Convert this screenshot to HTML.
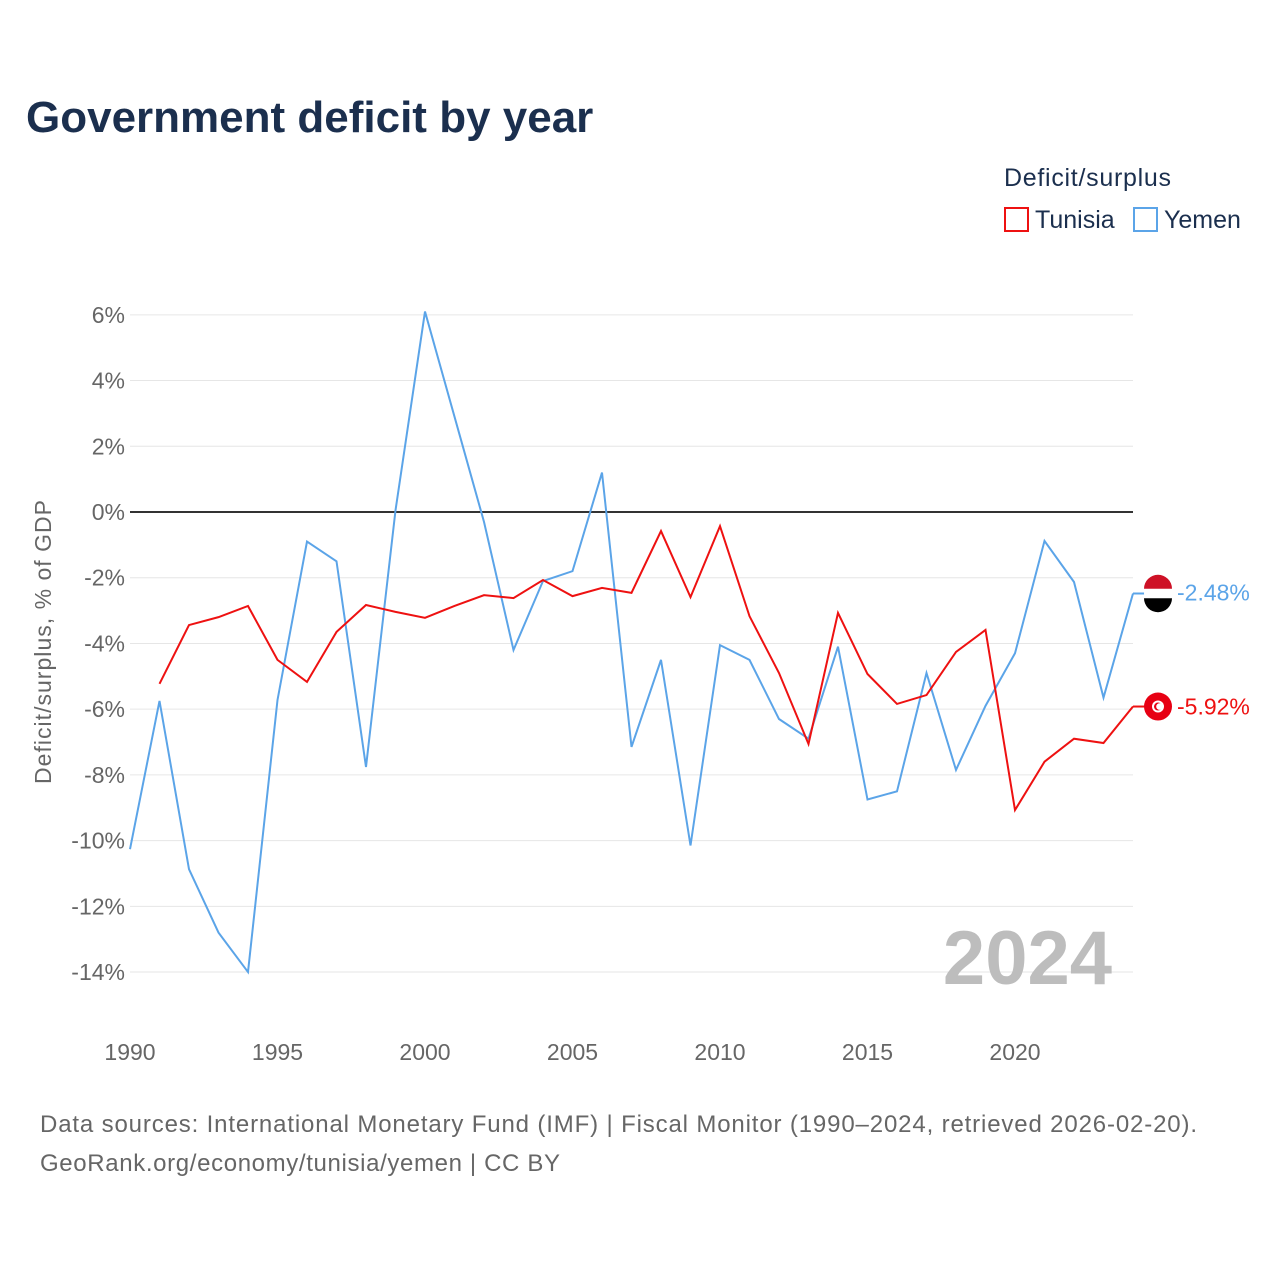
<!DOCTYPE html>
<html><head><meta charset="utf-8"><style>
body{margin:0;background:#fff;font-family:"Liberation Sans",sans-serif;}
#wrap{position:relative;width:1280px;height:1280px;overflow:hidden;}
</style></head><body>
<div id="wrap">
<svg id="chart" width="1280" height="1280" xmlns="http://www.w3.org/2000/svg">
<text x="26" y="132" font-size="44" font-weight="bold" fill="#1b2f4e">Government deficit by year</text>
<text x="1004" y="186" font-size="25" fill="#1b2f4e" textLength="167">Deficit/surplus</text>
<g><rect x="1005" y="208" width="23" height="23" fill="none" stroke="#ee1111" stroke-width="2"/><text x="1035" y="228" font-size="25" fill="#1b2f4e">Tunisia</text></g>
<g><rect x="1134" y="208" width="23" height="23" fill="none" stroke="#5ba4e8" stroke-width="2"/><text x="1164" y="228" font-size="25" fill="#1b2f4e">Yemen</text></g>
<g id="grid"></g><g id="lines"></g>
<text transform="translate(51,642) rotate(-90)" text-anchor="middle" font-size="23" fill="#666" textLength="284">Deficit/surplus, % of GDP</text>
<text x="1112" y="984" text-anchor="end" font-size="76" font-weight="bold" fill="#bdbdbd">2024</text>
<text x="40" y="1132" font-size="24" fill="#666" textLength="1157">Data sources: International Monetary Fund (IMF) | Fiscal Monitor (1990–2024, retrieved 2026-02-20).</text>
<text x="40" y="1171" font-size="24" fill="#666" textLength="520">GeoRank.org/economy/tunisia/yemen | CC BY</text>
</svg></div>
<script>
const years=[1990,1991,1992,1993,1994,1995,1996,1997,1998,1999,2000,2001,2002,2003,2004,2005,2006,2007,2008,2009,2010,2011,2012,2013,2014,2015,2016,2017,2018,2019,2020,2021,2022,2023,2024];
const yemen=[-10.26,-5.75,-10.87,-12.8,-14.0,-5.72,-0.9,-1.5,-7.76,0.05,6.1,2.9,-0.3,-4.2,-2.1,-1.8,1.2,-7.15,-4.5,-10.15,-4.05,-4.5,-6.3,-6.9,-4.1,-8.75,-8.5,-4.9,-7.85,-5.9,-4.3,-0.88,-2.13,-5.65,-2.48];
const tunisia=[null,-5.23,-3.44,-3.2,-2.86,-4.5,-5.17,-3.65,-2.83,-3.04,-3.22,-2.86,-2.53,-2.62,-2.07,-2.56,-2.31,-2.46,-0.58,-2.59,-0.43,-3.17,-4.9,-7.06,-3.07,-4.93,-5.84,-5.57,-4.26,-3.59,-9.07,-7.6,-6.9,-7.03,-5.92];
const yTicks=[6,4,2,0,-2,-4,-6,-8,-10,-12,-14];
const xTicks=[1990,1995,2000,2005,2010,2015,2020];
const NS="http://www.w3.org/2000/svg";
const X=y=>130+(y-1990)*(1133-130)/34;
const Y=v=>512-v*32.86;
function mk(t,a,p){const e=document.createElementNS(NS,t);for(const k in a)e.setAttribute(k,a[k]);p.appendChild(e);return e;}
const g=document.getElementById('grid'),L=document.getElementById('lines');
yTicks.forEach(v=>{
 const l=mk('line',{x1:130,x2:1133,y1:Y(v),y2:Y(v),stroke:v===0?'#333':'#e6e6e6','stroke-width':v===0?2:1},g);
 
 
 const t=mk('text',{x:125,y:Y(v)+8,'text-anchor':'end','font-size':23,fill:'#666'},g);t.textContent=v+'%';
 
 
});
xTicks.forEach(y=>{
 const t=mk('text',{x:X(y),y:1060,'text-anchor':'middle','font-size':23,fill:'#666'},g);t.textContent=y;
 
 
});
function line(arr,col,name){
 let d='';arr.forEach((v,i)=>{if(v===null)return;d+=(d?'L':'M')+X(years[i])+','+Y(v);});
 const p=mk('path',{d:d,fill:'none',stroke:col,'stroke-width':2},L);
 
 
 const last=arr[arr.length-1];const yy=Y(last);
 mk('line',{x1:1133,x2:1145,y1:yy,y2:yy,stroke:col,'stroke-width':2},L);
 return yy;
}
const yy=line(yemen,'#5ba4e8','yemen-line');
const ty=line(tunisia,'#ee1111','tunisia-line');
const fy=mk('g',{},L);


mk('circle',{cx:1158,cy:yy,r:14,fill:'#fff'},fy);
mk('path',{d:`M1144,${yy-4.7}A14,14 0 0 1 1172,${yy-4.7}Z`,fill:'#ce1126'},fy);
mk('path',{d:`M1144,${yy+4.7}A14,14 0 0 0 1172,${yy+4.7}Z`,fill:'#000'},fy);
const ft=mk('g',{},L);


mk('circle',{cx:1158,cy:ty,r:14,fill:'#e70013'},ft);
mk('circle',{cx:1158,cy:ty,r:6,fill:'#fff'},ft);
mk('circle',{cx:1158,cy:ty,r:4,fill:'#e70013'},ft);
mk('circle',{cx:1159.5,cy:ty,r:3.3,fill:'#fff'},ft);
const ly=mk('text',{x:1177,y:yy+7,'font-size':23,fill:'#5ba4e8'},L);ly.textContent=yemen[yemen.length-1].toFixed(2)+'%';


const lt=mk('text',{x:1177,y:ty+8,'font-size':23,fill:'#ee1111'},L);lt.textContent=tunisia[tunisia.length-1].toFixed(2)+'%';


</script>
</body></html>
